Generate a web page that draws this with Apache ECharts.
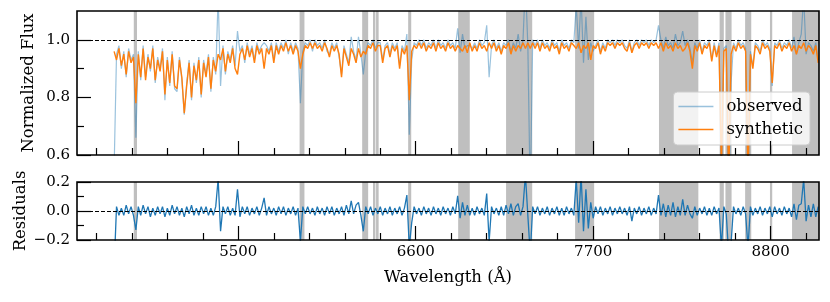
<!DOCTYPE html>
<html><head><meta charset="utf-8">
<script src="https://cdn.jsdelivr.net/npm/echarts@6/dist/echarts.min.js"></script>
<style>html,body{margin:0;padding:0;background:#fff}#c{width:830px;height:302px}</style>
</head><body><div id="c"></div>
<script>
const wavelength = [
4730,4745,4760,4775,4790,4805,4820,4835,4850,4865,
4880,4895,4910,4925,4940,4955,4970,4985,5000,5015,
5030,5045,5060,5075,5090,5105,5120,5135,5150,5165,
5180,5195,5210,5225,5240,5255,5270,5285,5300,5315,
5330,5345,5360,5375,5390,5405,5420,5435,5450,5465,
5480,5495,5510,5525,5540,5555,5570,5585,5600,5615,
5630,5645,5660,5675,5690,5705,5720,5735,5750,5765,
5780,5795,5810,5825,5840,5855,5870,5885,5900,5915,
5930,5945,5960,5975,5990,6005,6020,6035,6050,6065,
6080,6095,6110,6125,6140,6155,6170,6185,6200,6215,
6230,6245,6260,6275,6290,6305,6320,6335,6350,6365,
6380,6395,6410,6425,6440,6455,6470,6485,6500,6515,
6530,6545,6560,6575,6590,6605,6620,6635,6650,6665,
6680,6695,6710,6725,6740,6755,6770,6785,6800,6815,
6830,6845,6860,6875,6890,6905,6920,6935,6950,6965,
6980,6995,7010,7025,7040,7055,7070,7085,7100,7115,
7130,7145,7160,7175,7190,7205,7220,7235,7250,7265,
7280,7295,7310,7325,7340,7355,7370,7385,7400,7415,
7430,7445,7460,7475,7490,7505,7520,7535,7550,7565,
7580,7595,7610,7625,7640,7655,7670,7685,7700,7715,
7730,7745,7760,7775,7790,7805,7820,7835,7850,7865,
7880,7895,7910,7925,7940,7955,7970,7985,8000,8015,
8030,8045,8060,8075,8090,8105,8120,8135,8150,8165,
8180,8195,8210,8225,8240,8255,8270,8285,8300,8315,
8330,8345,8360,8375,8390,8405,8420,8435,8450,8465,
8480,8495,8510,8525,8540,8555,8570,8585,8600,8615,
8630,8645,8660,8675,8690,8705,8720,8735,8750,8765,
8780,8795,8810,8825,8840,8855,8870,8885,8900,8915,
8930,8945,8960,8975,8990,9005,9020,9035,9050,9065,
9080,9095];

const synthetic = [
0.96,0.93,0.97,0.91,0.95,0.88,0.96,0.92,0.94,0.78,
0.95,0.87,0.97,0.86,0.94,0.90,0.97,0.86,0.93,0.89,
0.96,0.81,0.93,0.85,0.95,0.84,0.83,0.93,0.87,0.745,
0.84,0.92,0.80,0.91,0.86,0.93,0.81,0.92,0.87,0.94,
0.83,0.93,0.89,0.95,0.93,0.97,0.89,0.95,0.92,0.97,
0.90,0.88,0.95,0.97,0.93,0.98,0.94,0.97,0.92,0.98,
0.95,0.97,0.90,0.97,0.95,0.98,0.92,0.98,0.95,0.98,
0.96,0.99,0.96,0.98,0.95,0.98,0.96,0.90,0.95,0.98,
0.97,0.99,0.97,0.99,0.97,0.98,0.96,0.99,0.97,0.94,
0.98,0.96,0.98,0.95,0.87,0.97,0.94,0.91,0.97,0.95,
0.92,0.97,0.94,0.96,0.95,0.98,0.97,0.99,0.96,0.98,
0.98,0.92,0.97,0.98,0.94,0.98,0.96,0.98,0.90,0.97,
0.95,0.98,0.79,0.96,0.98,0.97,0.99,0.97,0.99,0.96,
0.98,0.97,0.99,0.96,0.99,0.97,0.98,0.96,0.99,0.97,
0.98,0.96,0.98,0.97,0.96,0.98,0.955,0.99,0.96,0.98,
0.96,0.99,0.97,0.98,0.96,0.99,0.97,0.99,0.96,0.98,
0.95,0.98,0.97,0.99,0.95,0.98,0.96,0.98,0.97,0.99,
0.97,0.99,0.97,0.99,0.97,0.99,0.96,0.99,0.97,0.98,
0.96,0.99,0.97,0.98,0.95,0.99,0.97,0.98,0.96,0.99,
0.98,0.97,0.99,0.955,0.98,0.97,0.99,0.93,0.98,0.97,
0.99,0.95,0.98,0.96,0.99,0.98,0.99,0.97,0.99,0.98,
0.99,0.97,0.96,0.99,0.955,0.98,0.99,0.97,0.99,0.98,
0.99,0.97,0.99,0.98,0.99,0.97,0.99,0.96,0.99,0.97,
0.98,0.96,0.99,0.97,0.98,0.96,0.97,0.99,0.96,0.90,
0.98,0.96,0.99,0.95,0.98,0.97,0.99,0.925,0.98,0.94,
0.98,0.55,0.96,0.97,0.50,0.95,0.98,0.96,0.99,0.97,
0.98,0.96,0.52,0.95,0.90,0.98,0.97,0.95,0.99,0.97,
0.98,0.96,0.85,0.98,0.97,0.99,0.96,0.98,0.97,0.99,
0.96,0.98,0.95,0.98,0.97,0.99,0.96,0.98,0.97,0.95,
0.98,0.92];

const observed = [
0.55,0.95,0.98,0.90,0.96,0.87,0.97,0.93,0.95,0.66,
0.96,0.86,0.98,0.87,0.95,0.89,0.98,0.85,0.94,0.90,
0.97,0.79,0.94,0.84,0.96,0.83,0.82,0.94,0.86,0.74,
0.85,0.93,0.79,0.92,0.85,0.94,0.80,0.93,0.88,0.95,
0.82,0.94,0.88,1.15,0.84,0.98,0.88,0.96,0.93,0.98,
0.91,1.03,0.96,0.98,0.92,0.99,0.95,0.98,0.93,0.99,
0.96,0.98,0.99,0.98,0.96,0.99,0.93,0.99,0.96,0.99,
0.97,1.00,0.95,0.99,0.96,0.99,0.97,0.78,0.96,0.99,
0.98,1.00,0.96,1.00,0.98,0.99,0.97,1.00,0.96,0.95,
0.99,0.97,0.99,0.94,0.88,0.98,0.95,0.92,1.01,0.96,
0.93,1.01,0.95,0.88,0.96,0.99,0.98,1.00,0.97,0.99,
0.99,0.93,0.98,0.99,0.95,0.99,0.97,0.99,0.91,0.98,
0.96,1.02,0.67,0.93,0.99,0.98,1.00,0.98,1.00,0.97,
0.99,0.98,1.00,0.97,1.00,0.98,0.99,0.97,1.00,0.98,
0.99,0.97,1.04,0.955,1.02,0.97,0.98,0.98,0.97,0.99,
0.97,1.00,0.98,0.99,1.05,0.87,0.98,1.00,0.97,0.99,
0.96,0.99,0.98,1.00,0.96,0.99,0.97,1.02,0.96,1.00,
1.20,0.98,0.45,1.00,0.98,1.00,0.97,1.00,0.98,0.99,
0.97,1.00,0.98,0.99,0.96,1.00,0.98,0.99,0.97,1.00,
0.99,1.12,0.97,1.15,0.92,1.08,0.93,0.99,0.96,0.98,
1.00,0.96,0.99,0.97,1.00,0.99,1.00,0.98,1.00,0.99,
1.00,0.98,0.97,1.00,0.96,0.99,1.00,0.98,1.00,0.99,
1.00,0.98,1.00,0.99,1.00,1.05,1.00,0.97,1.01,0.98,
0.99,0.97,1.02,0.98,0.99,1.03,0.98,1.00,0.97,0.92,
0.99,0.97,1.00,0.96,0.99,0.98,1.00,0.93,0.99,0.95,
0.99,0.45,0.97,0.98,0.40,0.85,0.99,0.97,1.00,0.98,
0.99,0.97,0.45,0.96,0.91,0.99,0.98,0.96,1.00,0.98,
0.99,0.97,0.84,0.99,0.98,1.00,0.97,0.99,0.98,1.00,
0.97,1.01,0.95,0.99,1.02,1.15,0.95,0.99,0.98,0.96,
0.99,0.93];

const residuals = [
-0.40,0.03,-0.03,0.02,-0.03,0.04,-0.02,0.03,-0.03,-0.13,
0.03,-0.03,0.04,-0.02,0.03,-0.04,0.02,-0.03,0.03,-0.02,
0.03,-0.04,0.02,-0.03,0.04,-0.02,0.03,-0.03,0.02,-0.04,
0.03,-0.02,0.04,-0.03,0.02,-0.03,0.03,-0.02,0.03,-0.03,
0.02,-0.03,0.03,0.22,-0.14,0.03,-0.02,0.03,-0.03,0.02,
-0.03,0.15,-0.04,0.03,-0.02,0.03,-0.03,0.02,-0.02,0.03,
-0.03,0.02,0.09,-0.03,0.03,-0.02,0.02,-0.03,0.03,-0.02,
0.03,-0.03,0.02,-0.02,0.03,-0.03,0.02,-0.21,0.03,-0.02,
0.03,-0.02,0.02,-0.03,0.03,-0.02,0.02,-0.03,0.03,-0.02,
0.03,-0.03,0.02,-0.02,0.03,-0.03,0.04,-0.02,0.07,-0.02,
0.04,0.06,-0.03,-0.14,0.03,-0.02,0.03,-0.03,0.02,-0.02,
0.03,-0.03,0.02,-0.02,0.03,-0.03,0.02,-0.02,0.03,-0.03,
0.02,0.11,-0.25,-0.08,0.03,-0.02,0.02,-0.03,0.03,-0.02,
0.02,-0.03,0.03,-0.02,0.02,-0.03,0.03,-0.02,0.02,-0.03,
0.03,-0.02,0.105,-0.05,0.06,-0.03,0.04,-0.03,0.02,-0.03,
0.03,-0.02,0.02,-0.03,0.12,-0.21,0.03,-0.02,0.02,-0.03,
0.03,-0.03,0.04,-0.02,0.05,-0.03,0.03,0.05,-0.03,0.03,
0.25,-0.03,-0.30,0.03,-0.02,0.03,-0.03,0.02,-0.02,0.03,
-0.03,0.02,-0.02,0.03,-0.03,0.02,-0.03,0.03,-0.02,0.02,
-0.03,0.22,-0.08,0.25,-0.14,0.15,-0.12,0.06,-0.05,0.03,
-0.02,0.03,-0.03,0.02,-0.02,0.03,-0.03,0.02,-0.02,0.03,
-0.02,0.02,-0.03,0.03,-0.07,0.02,-0.02,0.03,-0.03,0.02,
-0.02,0.03,-0.03,0.02,-0.02,0.11,-0.03,0.05,-0.04,0.04,
-0.03,0.06,-0.04,0.03,-0.03,0.08,-0.03,0.04,-0.02,-0.05,
0.03,-0.03,0.02,-0.02,0.03,-0.03,0.02,-0.03,0.03,-0.02,
0.02,-0.25,0.03,-0.02,-0.30,-0.22,0.03,-0.02,0.02,-0.03,
0.03,-0.02,-0.25,0.03,-0.03,0.02,-0.02,0.03,-0.03,0.02,
-0.02,0.03,-0.04,0.03,-0.02,0.02,-0.03,0.03,-0.02,0.02,
-0.04,0.05,-0.06,0.04,0.05,0.22,-0.07,0.04,-0.04,0.05,
-0.04,0.03];

const maskStart = [4852, 5880, 6268, 6335, 6354, 6553, 6863, 7160, 7588, 8108, 8484, 8520, 8642, 8796, 8933];
const maskEnd   = [4872, 5910, 6305, 6350, 6370, 6572, 6935, 7322, 7706, 8352, 8510, 8558, 8680, 8810, 9100];

const xMajorTicks = [5500, 6600, 7700, 8800];
const xMinorTicks = [4620, 4840, 5060, 5280, 5720, 5940, 6160, 6380, 6820, 7040, 7260, 7480, 7920, 8140, 8360, 8580, 9020];
const fluxMajorTicks = [0.6, 0.8, 1.0];
const fluxMinorTicks = [0.7, 0.9];
const resMajorTicks = [-0.2, 0.0, 0.2];
const resMinorTicks = [-0.1, 0.1];

const FONT = 'DejaVu Serif';
const chart = echarts.init(document.getElementById('c'), null, {renderer: 'canvas'});
const pair = ys => wavelength.map((w, i) => [w, ys[i]]);
const bands = maskStart.map((s, i) => [{xAxis: s}, {xAxis: maskEnd[i]}]);
const fmtY = v => Number(v).toFixed(1).replace('-', '\u2212');
const fmtX = v => String(Math.round(v));
const tickTxt = {fontFamily: FONT, fontSize: 15, color: '#000'};
const nameTxt = {fontFamily: FONT, fontSize: 16.5, color: '#000'};

function xAx(gridIndex, ticks, len, labels, name) {
  return {
    type: 'value', gridIndex, min: 4500, max: 9100, position: 'bottom', z: 6,
    axisLine: {show: false, onZero: false}, splitLine: {show: false},
    axisTick: {show: true, inside: true, length: len, customValues: ticks, lineStyle: {color: '#000', width: 1.2}},
    axisLabel: {show: labels, customValues: ticks, margin: 5, formatter: fmtX, ...tickTxt},
    name: name || '', nameLocation: 'middle', nameGap: 29, nameMoveOverlap: false, nameTextStyle: nameTxt
  };
}
function yAx(gridIndex, min, max, ticks, len, labels, name, gap) {
  return {
    type: 'value', gridIndex, min, max, position: 'left', z: 6,
    axisLine: {show: false, onZero: false}, splitLine: {show: false},
    axisTick: {show: true, inside: true, length: len, customValues: ticks, lineStyle: {color: '#000', width: 1.2}},
    axisLabel: {show: labels, customValues: ticks, margin: 7, formatter: fmtY, ...tickTxt},
    name: name || '', nameLocation: 'middle', nameGap: gap || 40, nameMoveOverlap: false, nameTextStyle: nameTxt
  };
}

const option = {
  animation: false,
  backgroundColor: '#fff',
  grid: [
    {left: 77, right: 11, top: 11, height: 144, show: true, z: 10, borderColor: '#000', borderWidth: 1.6, backgroundColor: 'transparent'},
    {left: 77, right: 11, top: 182, height: 58, show: true, z: 10, borderColor: '#000', borderWidth: 1.6, backgroundColor: 'transparent'}
  ],
  xAxis: [
    xAx(0, xMajorTicks, 14, false),
    xAx(0, xMinorTicks, 7, false),
    xAx(1, xMajorTicks, 14, true, 'Wavelength (\u00c5)'),
    xAx(1, xMinorTicks, 7, false)
  ],
  yAxis: [
    yAx(0, 0.6, 1.1, fluxMajorTicks, 14, true, 'Normalized Flux', 40),
    yAx(0, 0.6, 1.1, fluxMinorTicks, 7, false),
    yAx(1, -0.2, 0.2, resMajorTicks, 14, true, 'Residuals', 48),
    yAx(1, -0.2, 0.2, resMinorTicks, 7, false)
  ],
  legend: {
    data: [{name: 'observed', icon: 'rect'}, {name: 'synthetic', icon: 'rect'}],
    orient: 'vertical', right: 20, top: 92,
    backgroundColor: 'rgba(255,255,255,0.8)', borderColor: '#cccccc', borderWidth: 1, borderRadius: 4,
    padding: [6, 7, 7, 5], itemGap: 6, itemWidth: 35, itemHeight: 1.5,
    textStyle: {...nameTxt, padding: [0, 0, 0, 8]}
  },
  series: [
    {name: 'maskTop', type: 'line', xAxisIndex: 0, yAxisIndex: 0, data: [], z: 1, silent: true,
     markArea: {silent: true, itemStyle: {color: '#bfbfbf'}, data: bands}},
    {name: 'maskBottom', type: 'line', xAxisIndex: 2, yAxisIndex: 2, data: [], z: 1, silent: true,
     markArea: {silent: true, itemStyle: {color: '#bfbfbf'}, data: bands}},
    {name: 'observed', type: 'line', xAxisIndex: 0, yAxisIndex: 0, data: pair(observed), z: 2,
     symbol: 'none', lineStyle: {color: 'rgba(31,119,180,0.45)', width: 1.2}, itemStyle: {color: 'rgba(31,119,180,0.45)'}},
    {name: 'synthetic', type: 'line', xAxisIndex: 0, yAxisIndex: 0, data: pair(synthetic), z: 3,
     symbol: 'none', lineStyle: {color: '#ff7f0e', width: 1.4}, itemStyle: {color: '#ff7f0e'}},
    {name: 'residuals', type: 'line', xAxisIndex: 2, yAxisIndex: 2, data: pair(residuals), z: 3,
     symbol: 'none', lineStyle: {color: '#1f77b4', width: 1.3}, itemStyle: {color: '#1f77b4'}},
    {name: 'refTop', type: 'line', xAxisIndex: 0, yAxisIndex: 0, data: [], z: 5, silent: true,
     markLine: {silent: true, symbol: 'none', label: {show: false}, lineStyle: {color: '#000', type: [4, 2], width: 1.2}, data: [{yAxis: 1}]}},
    {name: 'refBottom', type: 'line', xAxisIndex: 2, yAxisIndex: 2, data: [], z: 5, silent: true,
     markLine: {silent: true, symbol: 'none', label: {show: false}, lineStyle: {color: '#000', type: [4, 2], width: 1.2}, data: [{yAxis: 0}]}}
  ]
};
chart.setOption(option);
</script></body></html>
